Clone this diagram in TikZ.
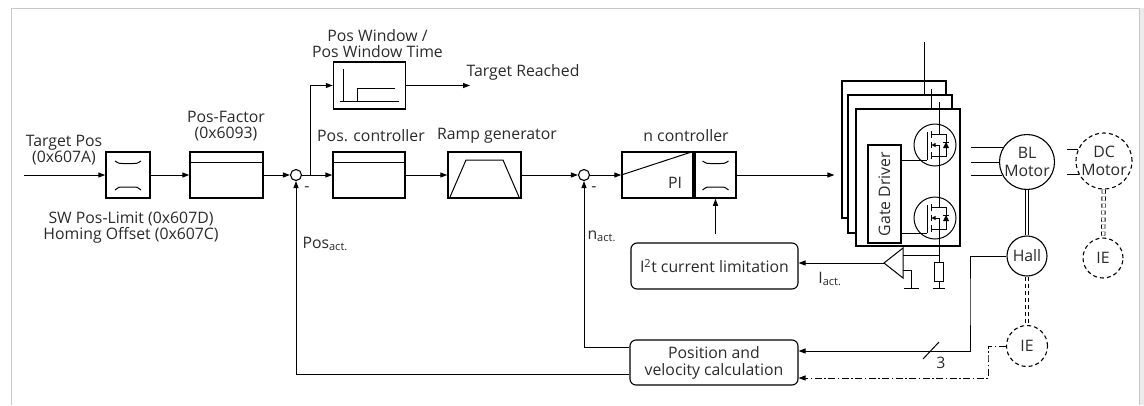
\documentclass[tikz,border=0pt]{standalone}
\usepackage{fontspec}
\setmainfont{Open Sans}
\usetikzlibrary{arrows.meta,positioning,calc}
\definecolor{txt}{HTML}{2A2A2A}
\definecolor{framegray}{HTML}{C8C8C8}

\begin{document}
\begin{tikzpicture}[x=1pt,y=-1pt,
		line width=1pt,
		every node/.style={font=\fontsize{15.8}{16}\selectfont,text=txt},
		blk/.style={draw,line width=1.5pt,minimum height=46pt,inner sep=0pt,fill=white},
		rblk/.style={draw,line width=1.1pt,rounded corners=6pt,align=center,inner sep=0pt},
		junc/.style={draw,circle,minimum size=11pt,inner sep=0pt,line width=1.1pt},
		ring/.style={draw,circle,inner sep=0pt,line width=1.1pt,align=center,fill=white},
		dsh/.style={dash pattern=on 4pt off 3pt},
		board/.style={draw,line width=1.1pt,fill=white,minimum width=104pt,minimum height=137pt,inner sep=0pt},
		arr/.style={-{Triangle[length=7pt,width=5pt]}},
		lbl/.style={align=center,inner sep=0pt},
		limsym/.pic={
			\draw (-13,-14) .. controls (-9,-11.5) .. (-5,-11.5) -- (5,-11.5) .. controls (9,-11.5) .. (13,-14);
			\draw (-13,15) .. controls (-9,12) .. (-5,12) -- (5,12) .. controls (9,12) .. (13,15);
		},
		fet/.pic={
			\node[draw,circle,minimum size=42pt,inner sep=0pt,line width=1pt] (-c) at (0,0) {};
			\coordinate (-top) at (4,-21);
			\coordinate (-bot) at (4,21);
			\coordinate (-g) at (-8,15);
			\draw (-8,15) -- (-8,-13);
			\draw (-4,-14) -- (-4,-7) (-4,-3) -- (-4,3) (-4,7) -- (-4,14);
			\draw (-4,-11) -- (11,-11) -- (11,11) -- (-4,11);
			\draw (4,-21) -- (4,-11) (4,11) -- (4,21) (4,0) -- (4,11);
			\draw[-{Triangle[length=4pt,width=4pt]}] (4,0) -- (-3.5,0);
			\fill (8,3) -- (14,3) -- (11,-3) -- cycle;
			\draw (8,-3) -- (14,-3);
		}
		]
		\useasboundingbox (0,0) rectangle (1144,405);
		\fill[black!8] (1139,8) rectangle (1144,405);
		\draw[framegray,line width=.8pt] (11,405) -- (11,8) -- (1139,8) -- (1139,405);

		% position loop
		\node[blk,minimum width=44pt] (lim1) at (128,175) {};
		\pic at (lim1) {limsym};
		\node[blk,minimum width=73pt] (fac) at (226.5,175) {};
		\draw ([yshift=-11pt]fac.north west) -- ([yshift=-11pt]fac.north east);
		\node[junc] (sum1) at (296,175) {};
		\node[blk,minimum width=72pt] (posc) at (369,175) {};
		\draw ([yshift=-11pt]posc.north west) -- ([yshift=-11pt]posc.north east);
		\node[blk,minimum width=72pt,minimum height=47pt] (win) at (369.5,85.5) {};
		\draw (343,69) -- (343,101.5);
		\draw (340,101.5) -- (399,101.5);
		\draw (357,101.5) -- (357,88) -- (395,88);
		\node[blk,minimum width=73pt] (ramp) at (484.5,175) {};
		\draw (450,197) -- (466,160) -- (503,160) -- (519,197);

		% speed loop
		\node[junc] (sum2) at (584,175) {};
		\node[blk,minimum width=71pt] (pi) at (657.5,175) {};
		\draw (pi.west) -- (pi.north east);
		\node (lPI) at (675,183) {PI};
		\node[blk,minimum width=41pt] (lim2) at (715.5,175) {};
		\pic at (lim2) {limsym};
		\node[rblk,minimum width=167pt,minimum height=46pt] (i2t) at (714.5,266) {I\textsuperscript{2}t current limitation};
		\node[rblk,minimum width=168pt,minimum height=45pt] (calc) at (714,362.5) {Position and\\[1pt]velocity calculation};

		% power stage
		\node[board] (b1) at (894,149.5) {};
		\draw (924,42) -- (924,95);
		\node[board,minimum height=138pt] (b2) at (900,164) {};
		\draw (931,89) -- (931,109);
		\node[board] (b3) at (908,177.5) {};
		\node[draw,line width=1.1pt,minimum width=33pt,minimum height=98pt,inner sep=0pt] (gd) at (884.5,194) {};
		\node[rotate=90] (lgd) at (gd) {Gate Driver};
		\pic (m1) at (935,145) {fet};
		\pic (m2) at (935,218) {fet};
		\draw (gd.east |- m1-g) -- (m1-g);
		\draw (gd.east |- m2-g) -- (m2-g);
		\draw (939,102) -- (m1-top);
		\draw (m1-bot) -- (m2-top);
		\node[draw,line width=1pt,minimum width=9pt,minimum height=19pt,inner sep=0pt] (res) at (939,271.5) {};
		\draw (m2-bot) -- (res.north);
		\draw (res.south) -- ++(0,7) coordinate (g1);
		\draw ([xshift=-6pt]g1) -- ([xshift=6pt]g1);
		\draw (903,248) -- (884,263) coordinate (ampo) -- (903,278) -- cycle;
		\draw (903,255) -- (939,255);
		\draw (903,270) -- (911,270) -- (911,288);
		\draw (904,288) -- (919,288);

		% motor side
		\node[ring,minimum size=55pt] (bl) at (1027,162) {BL\\[2pt]Motor};
		\node[ring,minimum size=40pt] (hall) at (1027,256) {Hall};
		\node[ring,dsh,minimum size=41pt] (ie1) at (1027,346) {IE};
		\node[ring,dsh,minimum size=56pt] (dc) at (1104,161) {DC\\[2pt]Motor};
		\node[ring,dsh,minimum size=40pt] (ie2) at (1103,258) {IE};
		\coordinate (ph) at (971,0);
		\foreach \a in {149,180,209}
			\draw (bl.\a -| ph) -- (bl.\a);
		\coordinate (pd) at (1067,0);
		\foreach \a in {157,208}
			\draw (dc.\a -| pd) -- (dc.\a);
		\draw[double,double distance=2.5pt,line width=.9pt] (bl) -- (hall);
		\draw[double,double distance=2.5pt,line width=.9pt,dsh] (hall) -- (ie1);
		\draw[double,double distance=2.5pt,line width=.9pt,dsh] (dc) -- (ie2);

		% signal flow
		\coordinate (tin) at (24,175);
		\draw[arr] (tin) -- (lim1);
		\draw[arr] (lim1) -- (fac);
		\draw[arr] (fac) -- (sum1);
		\draw[arr] (sum1) -- (posc);
		\coordinate (br) at (310,175);
		\draw[arr] (br) |- (win.west);
		\coordinate (tr) at (470,85.5);
		\draw[arr] (win) -- (tr);
		\draw[arr] (posc) -- (ramp);
		\draw[arr] (ramp) -- (sum2);
		\draw[arr] (sum2) -- (pi);
		\draw[arr,shorten >=7pt] (lim2) -- (lim2 -| b1.west);
		\draw[arr] (ampo) -- (ampo -| i2t.east);
		\draw[arr,shorten <=8pt] (lim2.south |- i2t.north) -- (lim2.south);
		\draw[arr] ([yshift=15.5pt]calc.west) -| (sum2.south);
		\draw[arr] ([yshift=-11.5pt]calc.west) -| (sum1.south);
		\coordinate (hk) at (970,300);
		\draw[arr] (hall.west) -| (hk) |- ([yshift=11.5pt]calc.east);
		\draw (923,359) -- (939,342);
		\coordinate (ik) at (988,360);
		\draw[arr,dash pattern=on 7pt off 2.5pt on 1.5pt off 2.5pt] (ie1.west) -| (ik) |- ([yshift=-15.5pt]calc.east);

		% labels
		\node[lbl] (lTarget) at (64,150) {Target Pos\\(0x607A)};
		\node[lbl] (lFactor) at (226,126) {Pos-Factor\\(0x6093)};
		\node[lbl] (lLimit) at (131,228) {SW Pos-Limit (0x607D)\\Homing Offset (0x607C)};
		\node[lbl] (lWindow) at (377.5,44) {Pos Window /\\Pos Window Time};
		\node[lbl] (lReached) at (523,72) {Target Reached};
		\node[lbl] (lPosc) at (371,136) {Pos. controller};
		\node[lbl] (lRamp) at (497,136) {Ramp generator};
		\node[lbl] (lNc) at (686,136) {n controller};
		\node[lbl,anchor=west] (lPosact) at (302,244) {Pos\textsubscript{act.}};
		\node[lbl,anchor=west] (lNact) at (587,236) {n\textsubscript{act.}};
		\node[lbl] (lIact) at (830,279) {I\textsubscript{act.}};
		\node[lbl] (lMinus1) at (307,189) {-};
		\node[lbl] (lMinus2) at (594,189) {-};
		\node[lbl] (lThree) at (941,363) {3};
\end{tikzpicture}
\end{document}
